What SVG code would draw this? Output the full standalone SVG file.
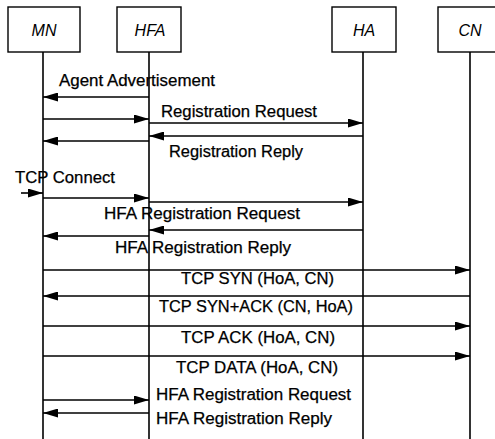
<svg xmlns="http://www.w3.org/2000/svg" width="495" height="439" viewBox="0 0 495 439">
  <style>
    .box { fill: #ffffff; stroke: #000000; stroke-width: 1.4; }
    .life { stroke: #000000; stroke-width: 1.6; fill: none; }
    .name { font-family: "Liberation Sans", Arial, sans-serif; font-size: 16px; font-style: italic; fill: #000000; text-anchor: middle; }
    .msg { stroke: #000000; stroke-width: 1.6; fill: none; marker-end: url(#head); }
    .lbl { font-family: "Liberation Sans", Arial, sans-serif; font-size: 16px; fill: #000000; stroke: #000000; stroke-width: 0.25; }
  </style>
  <defs>
    <marker id="head" markerUnits="userSpaceOnUse" markerWidth="15" markerHeight="9" refX="15" refY="4.5" orient="auto">
      <path d="M0,0 L15,4.5 L0,9 Z" fill="#000000"/>
    </marker>
  </defs>
  <rect width="495" height="439" fill="#ffffff"/>

  <!-- lifelines -->
  <g id="lifelines">
    <line class="life" x1="43" y1="52" x2="43" y2="439"/>
    <line class="life" x1="149" y1="52" x2="149" y2="439"/>
    <line class="life" x1="363" y1="52" x2="363" y2="439"/>
    <line class="life" x1="470" y1="52" x2="470" y2="439"/>
  </g>

  <!-- entities -->
  <g id="node-mn">
    <rect class="box" x="8" y="7" width="72" height="45"/>
    <text class="name" x="44" y="36">MN</text>
  </g>
  <g id="node-hfa">
    <rect class="box" x="117" y="7" width="64" height="45"/>
    <text class="name" x="150" y="36">HFA</text>
  </g>
  <g id="node-ha">
    <rect class="box" x="332" y="7" width="64" height="45"/>
    <text class="name" x="364" y="36">HA</text>
  </g>
  <g id="node-cn">
    <rect class="box" x="438" y="7" width="70" height="45"/>
    <text class="name" x="470" y="36">CN</text>
  </g>

  <!-- messages -->
  <g id="connectors">
    <line class="msg" x1="149" y1="97" x2="43" y2="97"/>
    <line class="msg" x1="43" y1="119" x2="149" y2="119"/>
    <line class="msg" x1="149" y1="123" x2="363" y2="123"/>
    <line class="msg" x1="363" y1="136" x2="149" y2="136"/>
    <line class="msg" x1="149" y1="141" x2="43" y2="141"/>
    <line class="msg" x1="21" y1="193" x2="43" y2="193"/>
    <line class="msg" x1="43" y1="198" x2="149" y2="198"/>
    <line class="msg" x1="149" y1="202" x2="363" y2="202"/>
    <line class="msg" x1="363" y1="230" x2="149" y2="230"/>
    <line class="msg" x1="149" y1="236" x2="43" y2="236"/>
    <line class="msg" x1="43" y1="270" x2="470" y2="270"/>
    <line class="msg" x1="470" y1="296" x2="43" y2="296"/>
    <line class="msg" x1="43" y1="326" x2="470" y2="326"/>
    <line class="msg" x1="43" y1="356" x2="470" y2="356"/>
    <line class="msg" x1="43" y1="400" x2="149" y2="400"/>
    <line class="msg" x1="149" y1="413" x2="43" y2="413"/>
  </g>

  <!-- message labels -->
  <g id="labels">
    <text class="lbl" x="59" y="86" textLength="156" lengthAdjust="spacingAndGlyphs">Agent Advertisement</text>
    <text class="lbl" x="161" y="117" textLength="156" lengthAdjust="spacingAndGlyphs">Registration Request</text>
    <text class="lbl" x="169" y="157" textLength="134" lengthAdjust="spacingAndGlyphs">Registration Reply</text>
    <text class="lbl" x="15" y="183" textLength="100" lengthAdjust="spacingAndGlyphs">TCP Connect</text>
    <text class="lbl" x="104" y="219" textLength="196" lengthAdjust="spacingAndGlyphs">HFA Registration Request</text>
    <text class="lbl" x="115" y="253" textLength="176" lengthAdjust="spacingAndGlyphs">HFA Registration Reply</text>
    <text class="lbl" x="181" y="284" textLength="153" lengthAdjust="spacingAndGlyphs">TCP SYN (HoA, CN)</text>
    <text class="lbl" x="159" y="312" textLength="194" lengthAdjust="spacingAndGlyphs">TCP SYN+ACK (CN, HoA)</text>
    <text class="lbl" x="181" y="343" textLength="154" lengthAdjust="spacingAndGlyphs">TCP ACK (HoA, CN)</text>
    <text class="lbl" x="176" y="373" textLength="162" lengthAdjust="spacingAndGlyphs">TCP DATA (HoA, CN)</text>
    <text class="lbl" x="156" y="400" textLength="195" lengthAdjust="spacingAndGlyphs">HFA Registration Request</text>
    <text class="lbl" x="156" y="424" textLength="176" lengthAdjust="spacingAndGlyphs">HFA Registration Reply</text>
  </g>
</svg>
